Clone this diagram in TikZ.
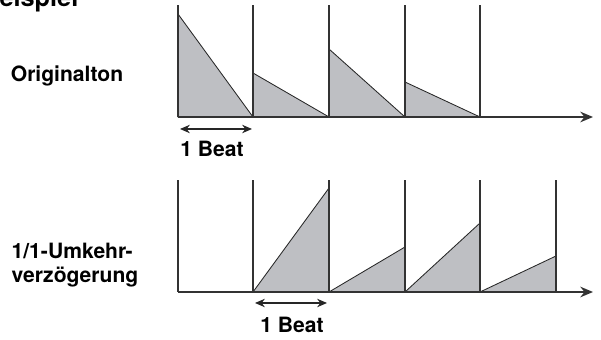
\documentclass[tikz,border=0pt]{standalone}
\usepackage{fontspec}
\setmainfont{TeX Gyre Heros}
\usetikzlibrary{arrows.meta}
\definecolor{wavegray}{RGB}{190,191,195}
\tikzset{
  envelope/.style={fill=wavegray, draw=black!85, line width=0.6pt},
  beatline/.style={draw=black!80, line width=0.75pt},
  timeaxis/.style={draw=black!80, line width=1.4pt, -{Stealth[length=9pt,width=7.5pt]}},
  beatspan/.style={draw=black!85, line width=0.9pt, {Stealth[length=7pt,width=6pt]}-{Stealth[length=7pt,width=6pt]}},
  lbl/.style={font=\bfseries\fontsize{15}{17.5}\selectfont, inner sep=0pt},
}
\begin{document}
\begin{tikzpicture}[x=0.025cm, y=-0.025cm]
    \useasboundingbox (0,0) rectangle (601,340);
    % 見出し (上端で切れている)
    \node[anchor=base west, font=\bfseries\fontsize{18}{20}\selectfont, inner sep=0pt] (title) at (-19,7) {Beispiel};

    % 原音: 減衰する包絡線
    \coordinate (oA) at (178,117);
    \coordinate (oB) at (253,117);
    \coordinate (oC) at (329,117);
    \coordinate (oD) at (405,117);
    \coordinate (oE) at (480,117);
    \coordinate (oEnd) at (593,117);
    \filldraw[envelope] (oA) -- (178,14) -- (oB) -- cycle;
    \filldraw[envelope] (oB) -- (253,73) -- (oC) -- cycle;
    \filldraw[envelope] (oC) -- (329,49) -- (oD) -- cycle;
    \filldraw[envelope] (oD) -- (405,82) -- (oE) -- cycle;
    \draw[beatline] (oA) -- (178,5);
    \draw[beatline] (oB) -- (253,5);
    \draw[beatline] (oC) -- (329,5);
    \draw[beatline] (oD) -- (405,5);
    \draw[beatline] (oE) -- (480,5);
    \draw[timeaxis] (oA) -- (oEnd);

    % 反転ディレイ: 立ち上がる包絡線
    \coordinate (rA) at (178,292);
    \coordinate (rB) at (253,292);
    \coordinate (rC) at (329,292);
    \coordinate (rD) at (405,292);
    \coordinate (rE) at (480,292);
    \coordinate (rF) at (556,292);
    \coordinate (rEnd) at (593,292);
    \filldraw[envelope] (rB) -- (329,188) -- (rC) -- cycle;
    \filldraw[envelope] (rC) -- (405,247) -- (rD) -- cycle;
    \filldraw[envelope] (rD) -- (480,223) -- (rE) -- cycle;
    \filldraw[envelope] (rE) -- (556,256) -- (rF) -- cycle;
    \draw[beatline] (rA) -- (178,180);
    \draw[beatline] (rB) -- (253,180);
    \draw[beatline] (rC) -- (329,180);
    \draw[beatline] (rD) -- (405,180);
    \draw[beatline] (rE) -- (480,180);
    \draw[beatline] (rF) -- (556,180);
    \draw[timeaxis] (rA) -- (rEnd);

    % 1 Beat の幅
    \coordinate (beatL) at (180,129);
    \coordinate (beatR) at (252,129);
    \draw[beatspan] (beatL) -- (beatR);
    \node[lbl, anchor=base] (beatTop) at (212,157) {1 Beat};
    \coordinate (revL) at (255,303);
    \coordinate (revR) at (327,303);
    \draw[beatspan] (revL) -- (revR);
    \node[lbl, anchor=base] (beatBot) at (292,333) {1 Beat};

    % 左側の見出し
    \node[lbl] (orig) at (67,76) {Originalton};
    \node[lbl, align=left] (rev) at (75,265) {1/1-Umkehr-\\verzögerung};
\end{tikzpicture}
\end{document}
